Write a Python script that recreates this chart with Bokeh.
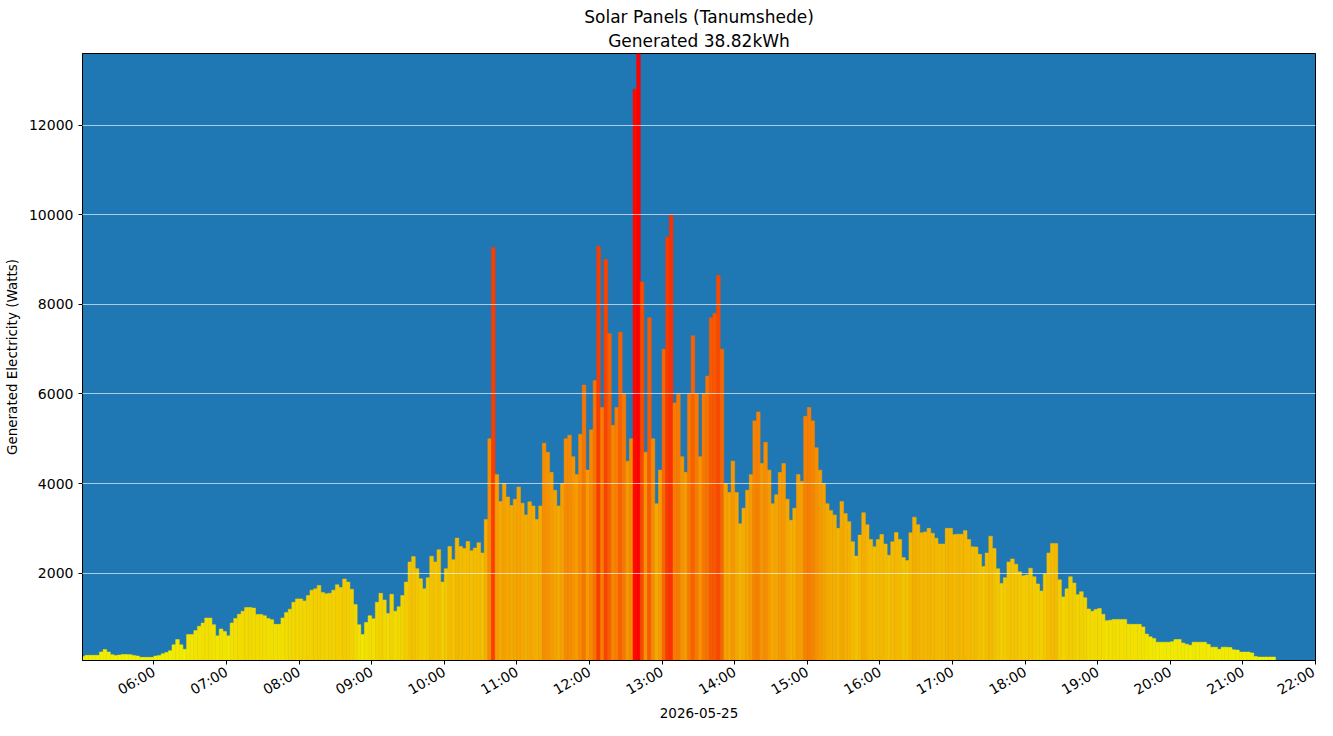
import math
from datetime import datetime, timedelta

from bokeh.embed import file_html
from bokeh.models import (ColumnDataSource, DatetimeTickFormatter, FixedTicker,
                          LinearColorMapper, Range1d, Title)
from bokeh.plotting import figure
from bokeh.resources import INLINE
from bokeh.transform import transform

# generated power, one reading per 3 minutes starting at 05:00
day_label = "2026-05-25"
start_time = datetime(2026, 5, 25, 5, 0)
end_time = datetime(2026, 5, 25, 22, 0)
step_minutes = 3
y_ticks = [2000, 4000, 6000, 8000, 10000, 12000]

watts = [
    140, 165, 165, 165, 165, 240, 296, 240, 180, 164, 170, 186, 186, 180, 164, 150, 120, 120, 120, 120,
    150, 164, 200, 230, 270, 400, 518, 400, 300, 628, 628, 717, 813, 886, 997, 997, 850, 600, 754, 700,
    600, 886, 990, 1080, 1150, 1233, 1233, 1220, 1078, 1078, 1050, 990, 960, 857, 857, 1000, 1120, 1196, 1350, 1425,
    1425, 1380, 1500, 1620, 1650, 1727, 1570, 1540, 1550, 1620, 1740, 1680, 1870, 1800, 1640, 1300, 850, 630, 900, 1050,
    980, 1350, 1550, 1400, 1100, 1528, 1150, 1250, 1500, 1800, 2250, 2369, 2100, 1875, 1650, 1900, 2376, 2250, 2524, 1800,
    2100, 2597, 2300, 2782, 2597, 2550, 2708, 2500, 2560, 2680, 2450, 3200, 5000, 9270, 4200, 3600, 4000, 3700, 3510, 3650,
    3925, 3560, 3300, 3593, 3500, 3200, 3500, 4900, 4700, 4250, 3850, 3500, 4000, 5000, 5080, 4600, 4200, 5100, 6200, 4300,
    5200, 6300, 9300, 5700, 9000, 7350, 5300, 5700, 7381, 6000, 4500, 5000, 12800, 13600, 8500, 4700, 7700, 5000, 3550, 4300,
    7000, 9500, 10000, 5800, 6000, 4600, 4250, 6000, 7300, 6000, 4600, 6000, 6400, 7700, 7800, 8650, 7000, 4000, 3800, 4500,
    3800, 3100, 3450, 3850, 4200, 5400, 5600, 4450, 4921, 4300, 3550, 3750, 4250, 4450, 3650, 3180, 3450, 4200, 4050, 5500,
    5700, 5400, 4800, 4300, 4000, 3550, 3400, 3300, 3000, 3600, 3330, 3150, 2700, 2380, 2850, 3350, 3080, 2750, 2590, 2750,
    2863, 2650, 2400, 2700, 2907, 2750, 2350, 2280, 2900, 3250, 3080, 2900, 2920, 3000, 2890, 2780, 2650, 2650, 3000, 3000,
    2860, 2870, 2870, 2950, 2750, 2590, 2583, 2420, 2150, 2450, 2826, 2550, 2100, 1770, 1900, 2250, 2317, 2200, 2030, 1941,
    1960, 2111, 1920, 1760, 1600, 1980, 2450, 2664, 2660, 1850, 1470, 1650, 1920, 1780, 1520, 1587, 1450, 1200, 1150, 1190,
    1210, 1080, 940, 950, 967, 967, 967, 967, 860, 857, 857, 857, 800, 640, 580, 540, 459, 459, 459, 459,
    470, 518, 518, 440, 415, 390, 459, 459, 459, 459, 410, 348, 348, 300, 348, 348, 340, 290, 282, 237,
    237, 237, 220, 140, 127, 127, 127, 127, 127,
]

times = [start_time + timedelta(minutes=step_minutes * (i + 0.5)) for i in range(len(watts))]
source = ColumnDataSource(data=dict(time=times, watts=watts))

# yellow -> orange -> red, like the original colour map
palette = []
for i in range(256):
    f = i / 255
    r = int(round(242 + 13 * f))
    g = int(round(242 * (1 - f) ** 1.2))
    palette.append("#%02x%02x%02x" % (r, g, 0))
mapper = LinearColorMapper(palette=palette, low=0, high=max(watts))

p = figure(
    width=1317,
    height=720,
    x_axis_type="datetime",
    x_range=Range1d(start_time + timedelta(minutes=1), end_time),
    y_range=Range1d(50, 13600),
    output_backend="svg",
    toolbar_location=None,
    min_border_left=81,
    min_border_right=2,
    min_border_top=53,
    min_border_bottom=55,
    x_axis_label=day_label,
    y_axis_label="Generated Electricity (Watts)",
)

# two centred title lines: p.title on top, the subtitle just above the frame
p.title.text = "Solar Panels (Tanumshede)"
sub = Title(text="Generated 38.82kWh")
p.add_layout(sub, "above")
for t in (p.title, sub):
    t.align = "center"
    t.text_font = "DejaVu Sans"
    t.text_font_size = "17px"
    t.text_font_style = "normal"
    t.text_color = "black"
p.title.standoff = 0
sub.standoff = 5

p.background_fill_color = "#1f77b4"
p.border_fill_color = "white"
p.outline_line_color = "black"
p.outline_line_width = 1

p.vbar(
    x="time",
    top="watts",
    bottom=0,
    width=step_minutes * 60 * 1000,
    source=source,
    fill_color=transform("watts", mapper),
    line_color=transform("watts", mapper),
    line_width=0.5,
)

epoch = datetime(1970, 1, 1)
hour_ticks = [(datetime(2026, 5, 25, h) - epoch).total_seconds() * 1000 for h in range(6, 23)]
p.xaxis.ticker = FixedTicker(ticks=hour_ticks)
p.xaxis.formatter = DatetimeTickFormatter(
    hours="%H:%M", hourmin="%H:%M", minutes="%H:%M", minsec="%H:%M", days="%H:%M"
)
p.xaxis.major_label_orientation = math.pi / 6
p.yaxis.ticker = FixedTicker(ticks=y_ticks)

for ax in (p.xaxis, p.yaxis):
    ax.major_label_text_font = "DejaVu Sans"
    ax.major_label_text_font_size = "14px"
    ax.major_label_text_color = "black"
    ax.axis_label_text_font = "DejaVu Sans"
    ax.axis_label_text_font_size = "13.5px"
    ax.axis_label_text_font_style = "normal"
    ax.axis_label_text_color = "black"
    ax.axis_line_color = "black"
    ax.major_tick_line_color = "black"
    ax.major_tick_out = 4
    ax.major_tick_in = 0
    ax.minor_tick_line_color = None
p.xaxis.major_label_standoff = 6
p.xaxis.axis_label_standoff = 0
p.yaxis.axis_label_standoff = 6

p.xgrid.grid_line_color = None
p.ygrid.grid_line_color = "white"
p.ygrid.grid_line_alpha = 0.8
p.ygrid.grid_line_width = 0.8
p.ygrid.level = "overlay"

open("out.html", "w").write(file_html(p, INLINE))
